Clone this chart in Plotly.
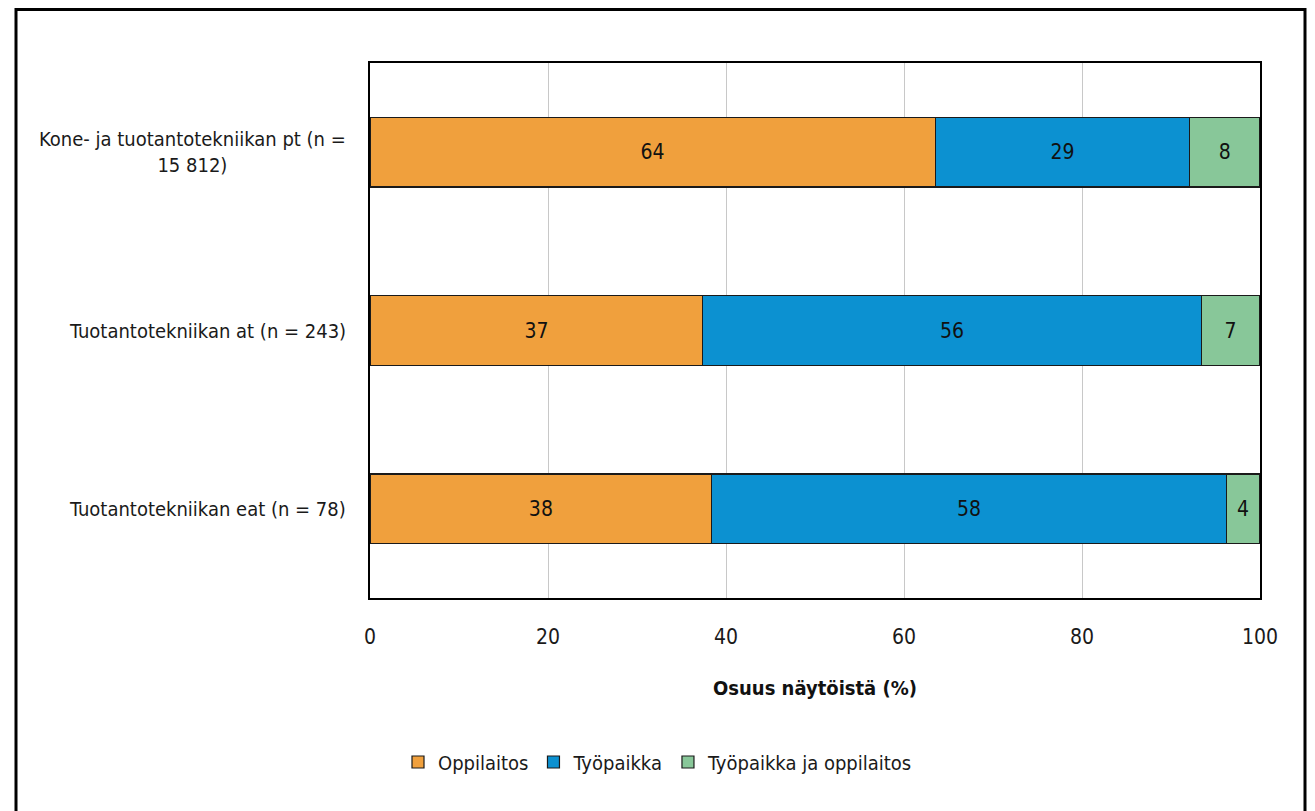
import plotly.graph_objects as go

categories = ["Kone- ja tuotantotekniikan pt (n =<br>15 812)",
              "Tuotantotekniikan at (n = 243)",
              "Tuotantotekniikan eat (n = 78)"]
series_names = ["Oppilaitos", "Työpaikka", "Työpaikka ja oppilaitos"]
oppilaitos = [63.5, 37.4, 38.4]
tyopaikka = [28.6, 56.0, 57.8]
molemmat = [7.9, 6.6, 3.8]
x_ticks = [0, 20, 40, 60, 80, 100]

colors = ["#F0A03D", "#0C91D1", "#88C799"]
FONT = "Liberation Sans Narrow, DejaVu Sans Condensed, Arial Narrow, sans-serif"

OFF = 8  # page body margin
W, H = 1315 - OFF, 811 - OFF
L, T = 370 - OFF, 63 - OFF
R = W - (1260 - OFF)
B = H - (598 - OFF)
pw, ph = W - L - R, H - T - B

fig = go.Figure()
for name, vals, col in zip(series_names, [oppilaitos, tyopaikka, molemmat], colors):
    fig.add_trace(go.Bar(
        y=categories, x=vals, name=name, orientation="h",
        marker=dict(color=col, line=dict(color="#1a1a1a", width=1.2)),
        text=[f"{int(v + 0.5):d}" for v in vals],
        textposition="inside", insidetextanchor="middle",
        textfont=dict(family=FONT, size=21, color="#111111"),
        hoverinfo="skip",
    ))

for c in categories:
    fig.add_annotation(x=0, xref="paper", xanchor="right", xshift=-22,
                       y=c, yref="y", text=c, showarrow=False, align="center",
                       font=dict(family=FONT, size=20, color="#1a1a1a"))

# outer frame (top edge kept just inside the figure)
fig.add_shape(type="rect", xref="paper", yref="paper",
              x0=(16 - OFF - L) / pw, x1=(1305 - OFF - L) / pw,
              y0=(H - B - 830) / ph, y1=(H - B - 1.5) / ph,
              line=dict(color="black", width=3), fillcolor="rgba(0,0,0,0)", layer="below")

fig.update_layout(
    width=W, height=H, barmode="stack", bargap=0.61,
    margin=dict(l=L, r=R, t=T, b=B),
    paper_bgcolor="white", plot_bgcolor="white",
    font=dict(family=FONT, size=20, color="#1a1a1a"),
    xaxis=dict(range=[0, 100], tickvals=x_ticks, showgrid=True, gridcolor="#c8c8c8", gridwidth=1,
               showline=True, linecolor="black", linewidth=2, mirror=True,
               ticks="", ticklabelstandoff=19, zeroline=False,
               tickfont=dict(family=FONT, size=21, color="#1a1a1a"),
               title=dict(text="<b>Osuus näytöistä (%)</b>", standoff=33,
                          font=dict(family=FONT, size=20, color="#111111"))),
    yaxis=dict(autorange="reversed", showticklabels=False, showgrid=False,
               showline=True, linecolor="black", linewidth=2, mirror=True, ticks=""),
    legend=dict(orientation="h", x=(658 - OFF - L) / pw, xanchor="center",
                y=(H - B - (762 - OFF)) / ph, yanchor="middle",
                font=dict(family=FONT, size=20, color="#1a1a1a"),
                itemwidth=30, traceorder="normal"),
    showlegend=True,
)

fig.write_html("out.html")
